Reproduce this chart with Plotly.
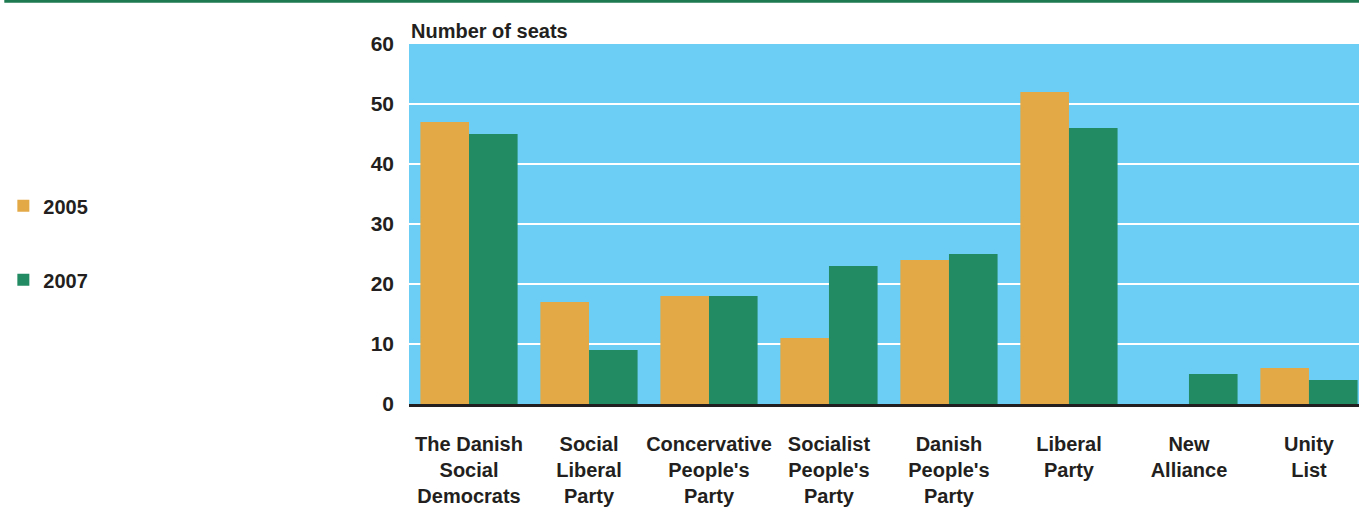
import plotly.graph_objects as go

categories = ["The Danish<br>Social<br>Democrats", "Social<br>Liberal<br>Party",
              "Concervative<br>People's<br>Party", "Socialist<br>People's<br>Party",
              "Danish<br>People's<br>Party", "Liberal<br>Party", "New<br>Alliance", "Unity<br>List"]
seats_2005 = [47, 17, 18, 11, 24, 52, 0, 6]
seats_2007 = [45, 9, 18, 23, 25, 46, 5, 4]
y_ticks = [0, 10, 20, 30, 40, 50, 60]

FONT = "Liberation Sans, Arial, sans-serif"
TXT = "#231F20"

fig = go.Figure()
fig.add_trace(go.Bar(name="2005", x=categories, y=seats_2005, marker_color="#E3A946",
                     marker_line_width=0, legendgroup="a"))
fig.add_trace(go.Bar(name="2007", x=categories, y=seats_2007, marker_color="#238B63",
                     marker_line_width=0, legendgroup="b"))

fig.update_layout(
    width=1359, height=512,
    margin=dict(l=409, r=0, t=44, b=108),
    paper_bgcolor="white", plot_bgcolor="#6CCEF4",
    barmode="group", bargap=0.19, bargroupgap=0,
    font=dict(family=FONT, size=19, color=TXT, weight="bold"),
    legend=dict(x=-0.427, xanchor="left", y=0.605, yanchor="top",
                tracegroupgap=45, traceorder="grouped",
                font=dict(size=20, family=FONT, color=TXT, weight="bold"),
                itemwidth=30, bgcolor="rgba(0,0,0,0)"),
    xaxis=dict(showline=True, linecolor=TXT, linewidth=3, layer="above traces",
               range=[-0.5, 7.417],
               tickfont=dict(size=20, family=FONT, color=TXT, weight="bold"),
               ticks="", showgrid=False, ticklabelstandoff=20),
    yaxis=dict(range=[0, 60], tickvals=y_ticks, showgrid=True, gridcolor="white",
               gridwidth=2, zeroline=False, ticks="", ticklabelstandoff=14,
               tickfont=dict(size=21, family=FONT, color=TXT, weight="bold")),
    annotations=[dict(text="Number of seats", xref="paper", yref="paper", x=0, y=1,
                      xanchor="left", yanchor="bottom", showarrow=False,
                      font=dict(size=20, family=FONT, color=TXT, weight="bold"))],
    shapes=[dict(type="line", xref="paper", yref="paper", x0=-0.426, x1=1,
                 y0=1.119, y1=1.119, line=dict(color="#1E7A50", width=3))],
)

fig.write_html("out.html", config={"displayModeBar": False},
               post_script="document.body.style.margin='0px';")
